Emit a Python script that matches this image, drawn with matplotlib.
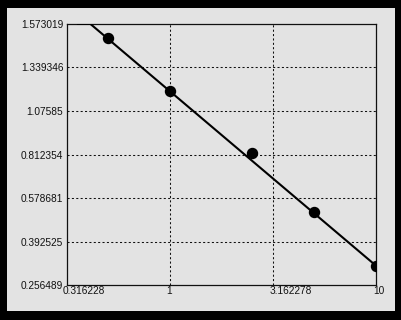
import numpy as np
import matplotlib
matplotlib.use('Agg')
import matplotlib.pyplot as plt
from matplotlib.patches import Rectangle
from matplotlib.transforms import ScaledTranslation

# ---- data ----
x_dose = [0.5, 1.0, 2.5, 5.0, 10.0]
y_resp = [1.501, 1.199, 0.824, 0.513, 0.311]
fit_x = [0.3595, 0.412, 10.0]
fit_y = [1.573019, 1.573019, 0.311]
x_ticks = [0.316228, 1, 3.162278, 10]
x_labels = ['0.316228', '1', '3.162278', '10']
y_ticks = [0.256489, 0.392525, 0.578681, 0.812354, 1.07585, 1.339346, 1.573019]
y_labels = ['0.256489', '0.392525', '0.578681', '0.812354', '1.07585', '1.339346', '1.573019']

# y axis of the reference is a scaled logistic axis centred on 1.07585
C = 1.07585


def fwd(v):
    v = np.asarray(v, dtype=float)
    r = np.clip(v / (2 * C), 1e-9, 1 - 1e-9)
    return np.log(r / (1 - r))


def inv(u):
    u = np.asarray(u, dtype=float)
    return 2 * C / (1 + np.exp(-u))


W, H = 401, 320
fig = plt.figure(figsize=(W / 100, H / 100), dpi=100, facecolor='black')

# grey panel
px0, px1, py0, py1 = 7.3, 395.3, 8.3, 310.7
fig.add_artist(Rectangle((px0 / W, 1 - py1 / H), (px1 - px0) / W, (py1 - py0) / H,
                         transform=fig.transFigure, facecolor='#e3e3e3',
                         edgecolor='none', zorder=0))

L, R, T, B = 66.5, 376.3, 23.8, 285.3
ax = fig.add_axes([L / W, 1 - B / H, (R - L) / W, (B - T) / H])
ax.set_facecolor('#e3e3e3')

ax.set_xscale('log')
ax.set_yscale('function', functions=(fwd, inv))
ax.set_xlim(x_ticks[0], x_ticks[-1])
ax.set_ylim(y_ticks[0], y_ticks[-1])

font = dict(family='Liberation Sans', size=7.3, color='#111111')

ax.set_xticks(x_ticks)
ax.set_xticklabels(x_labels, **font)
ax.xaxis.set_minor_locator(matplotlib.ticker.NullLocator())
ax.set_yticks(y_ticks)
ax.set_yticklabels(y_labels, **font)
ax.yaxis.set_minor_locator(matplotlib.ticker.NullLocator())
ax.tick_params(axis='both', length=0)
ax.tick_params(axis='y', pad=2.3)
ax.tick_params(axis='x', pad=0.6)

off = ScaledTranslation(-3.5 / 100, 0, fig.dpi_scale_trans)
for lab in ax.get_xticklabels():
    lab.set_ha('left')
    lab.set_transform(lab.get_transform() + off)

# grid (interior only)
for xv in x_ticks[1:-1]:
    ax.axvline(xv, color='#111111', lw=0.75, ls=(0, (2, 2.2)), zorder=1)
for yv in y_ticks[1:-1]:
    ax.axhline(yv, color='#111111', lw=0.75, ls=(0, (2, 2.2)), zorder=1)

ax.plot(fit_x, fit_y, color='black', lw=1.5, zorder=3)
ax.plot(x_dose, y_resp, 'o', color='black', ms=7.2, zorder=4)

for s in ax.spines.values():
    s.set_color('#111111')
    s.set_linewidth(0.9)

fig.savefig('out.png', dpi=100, facecolor='black')
